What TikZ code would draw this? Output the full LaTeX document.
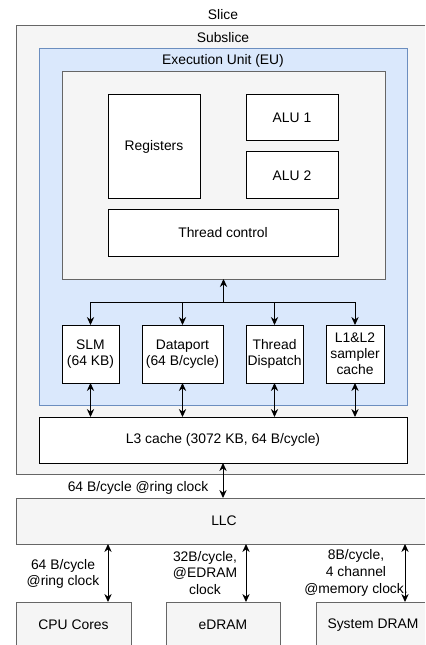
\documentclass[tikz,border=0pt]{standalone}
\usepackage{fontspec}
\setmainfont{Liberation Sans}
\usetikzlibrary{fit,arrows.meta}
\definecolor{grayfill}{HTML}{F5F5F5}
\definecolor{grayline}{HTML}{666666}
\definecolor{bluefill}{HTML}{DAE8FC}
\definecolor{blueline}{HTML}{6C8EBF}
\begin{document}
\begin{tikzpicture}[x=0.75pt,y=-0.75pt,
 every node/.style={font=\fontsize{10.4}{12.5}\selectfont},
 graybox/.style={draw=grayline, fill=grayfill, inner sep=0pt, outer sep=0pt, line width=0.75pt},
 grayfillbox/.style={fill=grayfill, inner sep=0pt, outer sep=0pt},
 grayedge/.style={draw=grayline, line width=0.75pt},
 bluebox/.style={draw=blueline, fill=bluefill, inner sep=0pt, outer sep=0pt, line width=0.75pt},
 wbox/.style={draw=black, fill=white, inner sep=0pt, outer sep=0pt, line width=0.75pt},
 arr/.style={{Stealth[length=6pt,width=5.5pt]}-{Stealth[length=6pt,width=5.5pt]}, line width=0.75pt},
 onearr/.style={-{Stealth[length=6pt,width=5.5pt]}, line width=0.75pt},
 lbl/.style={align=center, inner sep=0pt}]
\useasboundingbox (0,0) rectangle (425,645);
\clip (0,0) rectangle (425,645);
\fill[white] (0,0) rectangle (425,645);

% Slice (runs past the right edge)
\node[grayfillbox, fit={(16,26) (425,474)}] (slice) {};
\draw[grayedge] (slice.north east) -- (slice.north west) -- (slice.south west) -- (slice.south east);
\node[lbl] (slicet) at (223,15) {Slice};
\node[bluebox, fit={(39,49) (407,405)}] (sub) {};
\node[lbl] (subt) at (223,38) {Subslice};
\node[lbl] (eut) at (223,61) {Execution Unit (EU)};
\node[graybox, fit={(62,72) (385,279)}] (eu) {};

% EU content
\node[wbox, fit={(108,95) (200,199)}] (reg) {};
\node (regt) at (reg.center) {Registers};
\node[wbox, fit={(246,95) (338,141)}] (alu1) {};
\node (alu1t) at (alu1.center) {ALU 1};
\node[wbox, fit={(246,152) (338,199)}] (alu2) {};
\node (alu2t) at (alu2.center) {ALU 2};
\node[wbox, fit={(108,210) (338,256)}] (tc) {};
\node (tct) at (tc.center) {Thread control};

% subslice units
\node[wbox, fit={(62,325) (119,383)}] (slm) {};
\node[lbl] (slmt) at (slm.center) {SLM\\(64 KB)};
\node[wbox, fit={(142,325) (223,383)}] (dp) {};
\node[lbl] (dpt) at (dp.center) {Dataport\\(64 B/cycle)};
\node[wbox, fit={(246,325) (303,383)}] (td) {};
\node[lbl] (tdt) at (td.center) {Thread\\Dispatch};
\node[wbox, fit={(326,325) (384,383)}] (l12) {};
\node[lbl, font=\fontsize{10.4}{12}\selectfont] (l12t) at (l12.center) {L1\&L2\\sampler\\cache};

\node[wbox, fit={(39,417) (407,463)}] (l3) {};
\node (l3t) at (l3.center) {L3 cache (3072 KB, 64 B/cycle)};

% bus
\coordinate (bus) at (223.5,302);
\draw[onearr] (bus) -- (eu.south);
\draw[line width=0.75pt] (slm.north |- bus) -- (l12.north |- bus);
\draw[onearr] (slm.north |- bus) -- (slm.north);
\draw[onearr] (dp.north |- bus) -- (dp.north);
\draw[onearr] (td.north |- bus) -- (td.north);
\draw[onearr] (l12.north |- bus) -- (l12.north);

\draw[arr] (slm.south) -- (slm.south |- l3.north);
\draw[arr] (dp.south) -- (dp.south |- l3.north);
\draw[arr] (td.south) -- (td.south |- l3.north);
\draw[arr] (l12.south) -- (l12.south |- l3.north);

% LLC (runs past the right edge)
\node[grayfillbox, fit={(16,498) (425,544)}] (llc) {};
\draw[grayedge] (llc.north east) -- (llc.north west) -- (llc.south west) -- (llc.south east);
\node (llct) at (224,521) {LLC};
\draw[arr] (l3.south) -- (l3.south |- llc.north);
\node[lbl] (l3lbl) at (138,488) {64 B/cycle @ring clock};

% memory boxes (run past the bottom edge)
\node[grayfillbox, fit={(16,602) (131,645)}] (cpu) {};
\draw[grayedge] (cpu.south west) -- (cpu.north west) -- (cpu.north east) -- (cpu.south east);
\node (cput) at (73.5,625) {CPU Cores};
\node[grayfillbox, fit={(166,602) (280,645)}] (edram) {};
\draw[grayedge] (edram.south west) -- (edram.north west) -- (edram.north east) -- (edram.south east);
\node (edramt) at (223,625) {eDRAM};
\node[grayfillbox, fit={(316,602) (425,645)}] (sdram) {};
\draw[grayedge] (sdram.south west) -- (sdram.north west) -- (sdram.north east);
\node (sdramt) at (373,625) {System DRAM};

\coordinate (c1) at (108,0);
\coordinate (c2) at (246,0);
\coordinate (c3) at (405,0);
\draw[arr] (llc.south -| c1) -- (cpu.north -| c1);
\draw[arr] (llc.south -| c2) -- (edram.north -| c2);
\draw[arr] (llc.south -| c3) -- (sdram.north -| c3);

\node[lbl] (cpulbl) at (63,574) {64 B/cycle\\@ring clock};
\node[lbl] (edlbl) at (205,573) {32B/cycle,\\@EDRAM\\clock};
\node[lbl] (sdlbl) at (356,573) {8B/cycle,\\4 channel\\@memory clock.};
\end{tikzpicture}
\end{document}
